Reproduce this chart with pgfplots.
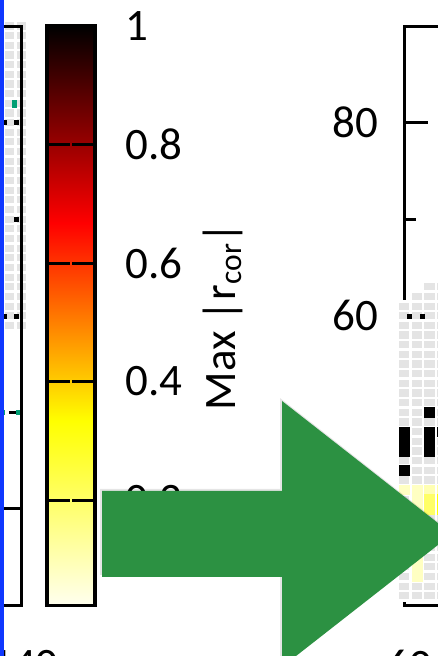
\documentclass[border=0pt]{standalone}
\usepackage{fontspec}
\setmainfont{Carlito}
\usepackage{pgfplots}
\pgfplotsset{compat=1.18}
\usepackage{pgfplotstable}
\definecolor{cellgray}{RGB}{228,228,228}
\definecolor{tealx}{RGB}{0,158,115}
\definecolor{arrowgreen}{RGB}{44,145,66}
\definecolor{edgeblue}{RGB}{16,56,255}

% gray (empty) cells, left panel
\pgfplotstableread{
x y
139 59
139 60
139 61
139 62
139 63
139 64
139 65
139 66
139 67
139 68
139 69
139 70
139 71
139 72
139 73
139 74
139 75
139 76
139 77
139 78
139 79
139 80
139 81
139 82
139 83
139 84
139 85
139 86
139 87
139 88
139 89
139 90
140 59
140 60
140 61
140 62
140 63
140 64
140 65
140 66
140 67
140 68
140 69
140 70
140 71
140 72
140 73
140 74
140 75
140 76
140 77
140 78
140 79
140 80
140 81
140 82
140 83
140 84
140 85
140 86
140 87
140 88
140 89
140 90
}\leftgray

% gray (empty) cells, right panel
\pgfplotstableread{
x y
60 31
60 32
60 33
60 34
60 35
60 36
60 37
60 38
60 39
60 40
60 41
60 42
60 43
60 44
60 45
60 46
60 47
60 48
60 49
60 50
60 51
60 52
60 53
60 54
60 55
60 56
60 57
60 58
60 59
60 60
60 61
61 31
61 32
61 33
61 34
61 35
61 36
61 37
61 38
61 39
61 40
61 41
61 42
61 43
61 44
61 45
61 46
61 47
61 48
61 49
61 50
61 51
61 52
61 53
61 54
61 55
61 56
61 57
61 58
61 59
61 60
61 61
61 62
62 31
62 32
62 33
62 34
62 35
62 36
62 37
62 38
62 39
62 40
62 41
62 42
62 43
62 44
62 45
62 46
62 47
62 48
62 49
62 50
62 51
62 52
62 53
62 54
62 55
62 56
62 57
62 58
62 59
62 60
62 61
62 62
62 63
63 31
63 32
63 33
63 34
63 35
63 36
63 37
63 38
63 39
63 40
63 41
63 42
63 43
63 44
63 45
63 46
63 47
63 48
63 49
63 50
63 51
63 52
63 53
63 54
63 55
63 56
63 57
63 58
63 59
63 60
63 61
63 62
63 63
}\rightgray

% coloured cells (max |r_cor|), right panel
\pgfplotstableread{
x y c
60 42 0.08
61 33 0.08
61 34 0.08
61 35 0.08
61 36 0.08
61 37 0.08
61 38 0.08
61 39 0.08
61 40 0.08
61 41 0.08
61 42 0.08
62 42 0.10
63 42 0.12
62 41 0.20
62 40 0.20
63 41 0.33
63 40 0.33
60 44 1
60 46 1
60 47 1
60 48 1
62 46 1
62 47 1
62 48 1
62 50 1
63 48 1
}\rightcells

\pgfplotsset{
  hotrev/.style={colormap={hotrev}{rgb=(1,1,1) rgb=(1,1,0) rgb=(1,0,0) rgb=(0,0,0)}},
  panel/.style={
    scale only axis, height=579.5pt, ymin=30, ymax=90,
    axis line style={line width=3pt},
    tick style={line width=3pt, black},
    major tick length=24pt, minor tick length=12pt,
    tick align=inside,
    tick label style={font=\fontsize{45}{54}\selectfont},
    /pgf/number format/assume math mode=true,
    ytick={40,60,80}, minor ytick={50,70},
    ytick pos=both,
    hotrev, point meta min=0, point meta max=1,
  },
}

\begin{document}
\begin{tikzpicture}[x=1pt,y=1pt]
\useasboundingbox (0,0) rectangle (438,656);
\clip (0,0) rectangle (438,656);

% ---------------- left panel (mostly cut off) ----------------
\begin{axis}[panel,
  at={(21.5pt,50.5pt)}, anchor=south east,
  width=138pt, xmin=128, xmax=140,
  clip mode=individual,
  xtick={140}, xticklabels={140},
  yticklabels={,,},
  xticklabel style={inner sep=0pt, yshift=-44.5pt, xshift=3pt},
]
\addplot[only marks, mark=square*, mark size=5.75pt,
  mark options={yscale=0.84, fill=cellgray, draw=white, line width=2.5pt}]
  table[x=x,y=y] {\leftgray};
\addplot[tealx, line width=5pt, dash pattern=on 4pt off 11pt]
  coordinates {(138.22,50) (139.87,50)};
\addplot[only marks, mark=square*, mark size=2pt, tealx,
  mark options={yscale=1.75}]
  coordinates {(139.35,82)};
\addplot[only marks, mark=square*, mark size=2pt, black]
  coordinates {(138.48,80) (139.52,80) (139.52,70) (138.48,60) (139.52,60)};
\draw[line width=3pt] (rel axis cs:0,0) rectangle (rel axis cs:1,1);
\end{axis}

% ---------------- colour bar ----------------
\begin{axis}[
  scale only axis, at={(47pt,50.5pt)}, anchor=south west,
  width=48pt, height=579.5pt,
  xmin=0, xmax=1, ymin=0.022, ymax=1,
  xtick=\empty,
  ytick={0.2,0.4,0.6,0.8,1}, yticklabels={0.2,0.4,0.6,0.8,1},
  ytick pos=both, yticklabel pos=right,
  tick align=inside, major tick length=23pt,
  tick style={line width=3pt, black},
  axis line style={line width=3.5pt},
  axis on top,
  hotrev, point meta min=0, point meta max=1,
  yticklabel style={anchor=west, inner sep=0pt, xshift=30pt,
    font=\fontsize{45}{54}\selectfont},
]
\addplot[surf, shader=interp, mesh/cols=2, point meta=explicit]
  coordinates {
  (0,0.022) [0.022] (1,0.022) [0.022]
  (0,0.3333) [0.3333] (1,0.3333) [0.3333]
  (0,0.6667) [0.6667] (1,0.6667) [0.6667]
  (0,1) [1] (1,1) [1]
  };
\end{axis}
\node[rotate=90, anchor=base, inner sep=0pt,
  font=\fontsize{45}{54}\selectfont] at (235,339.5) {Max |r\textsubscript{cor}|};

% ---------------- right panel (mostly cut off) ----------------
\begin{axis}[panel,
  at={(404pt,50.5pt)}, anchor=south west,
  width=255pt, xmin=60, xmax=80,
  clip=false,
  xtick={60}, xticklabels={60},
  yticklabels={40,60,80}, yticklabel pos=left,
  xticklabel style={inner sep=0pt, yshift=-44.5pt, xshift=5.5pt},
  yticklabel style={inner sep=0pt, xshift=-26pt},
]
\addplot[only marks, mark=square*, mark size=6.375pt,
  mark options={yscale=0.7575, fill=cellgray, draw=white, line width=2.5pt}]
  table[x=x,y=y] {\rightgray};
\addplot[scatter, only marks, mark=square*, mark size=5pt,
  scatter/use mapped color={draw=mapped color, fill=mapped color},
  mark options={yscale=0.9658, line width=0.2pt}, point meta=explicit]
  table[x=x,y=y,meta=c] {\rightcells};
\addplot[tealx, line width=5pt, dash pattern=on 4pt off 11pt]
  coordinates {(59.96,50) (64,50)};
\addplot[only marks, mark=square*, mark size=2pt, black]
  coordinates {(60.39,60) (61.41,60)};
\draw[line width=3pt] (rel axis cs:0,0) rectangle (rel axis cs:1,1);
\end{axis}

% ---------------- overlaid arrow ----------------
\fill[black, opacity=0.10]
  (100,167) -- (280,167) -- (280,258) -- (451,124) -- (280,-9) -- (280,81) -- (100,81) -- cycle;
\fill[arrowgreen]
  (102,165) -- (282,165) -- (282,255) -- (452,122) -- (282,-11) -- (282,79) -- (102,79) -- cycle;

% blue edge at the very left
\fill[edgeblue] (0,0) rectangle (4.3,656);
\end{tikzpicture}
\end{document}
